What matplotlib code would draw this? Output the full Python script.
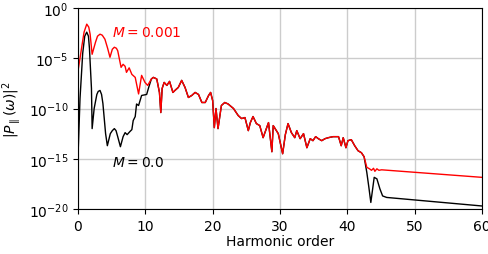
import numpy as np
import matplotlib
matplotlib.use("Agg")
import matplotlib.pyplot as plt

# log10 |P|^2, harmonic order on x

# M = 0.001, low harmonics (before the two curves merge)
red_head_x = [0.0, 0.3, 0.55, 0.9, 1.3, 1.6, 1.8, 2.1, 2.35, 2.6, 2.9, 3.27, 3.6, 4.0,
              4.4, 4.75, 5.1, 5.4, 5.7, 5.9, 6.4, 6.7, 7.0, 7.2, 7.6, 8.0, 8.5, 9.0,
              9.45, 9.95, 10.35]
red_head_log = [-6.25, -5.0, -3.9, -2.4, -1.6, -1.9, -2.6, -4.6, -4.0, -3.4, -2.8, -2.6, -2.7, -3.1,
                -4.0, -4.9, -4.1, -3.9, -4.0, -4.25, -5.9, -5.6, -5.8, -6.4, -5.95, -6.6, -6.9, -8.55,
                -6.7, -7.4, -7.7]

# M = 0.0, low harmonics
black_head_x = [0.0, 0.3, 0.7, 1.0, 1.3, 1.55, 1.7, 2.0, 2.1, 2.4, 2.8, 3.0, 3.27, 3.5,
                3.7, 4.1, 4.36, 4.8, 5.1, 5.4, 5.65, 5.9, 6.3, 6.7, 7.0, 7.3, 7.7, 8.0,
                8.2, 8.5, 8.7, 9.0, 9.45, 10.2, 10.5]
black_head_log = [-14.8, -9.0, -4.5, -2.8, -2.4, -2.8, -4.0, -8.0, -12.0, -10.0, -8.6, -8.3, -8.2, -8.6,
                  -9.5, -12.5, -13.7, -12.5, -12.2, -12.0, -12.2, -12.8, -13.8, -12.8, -12.4, -12.6, -12.3, -12.1,
                  -11.2, -10.8, -9.55, -9.7, -8.7, -8.6, -7.9]

# common part of both spectra
mid_x = [10.9, 11.2, 11.7, 12.1, 12.3, 12.5, 12.8, 13.2, 13.6, 14.1, 14.4, 14.9, 15.4,
         15.9, 16.4, 16.9, 17.4, 17.9, 18.4, 18.9, 19.4, 19.7, 20.0, 20.25, 20.5, 20.8,
         21.3, 21.8, 22.3, 23.1, 23.8, 24.3, 24.8, 25.3, 25.6, 26.0, 26.5, 27.0, 27.5,
         28.3, 28.8, 29.0, 29.75, 30.4, 30.8, 31.2, 31.7, 32.2, 32.5, 33.0, 33.5, 34.0,
         34.5, 34.9, 35.3, 35.7, 36.2, 36.7, 37.2, 37.9, 38.7, 39.1, 39.4, 39.8, 40.1,
         40.6, 41.1, 41.6, 42.1, 42.5]
mid_log = [-7.06, -6.9, -7.06, -8.4, -10.4, -8.0, -7.4, -7.7, -7.3, -8.4, -8.2, -7.9, -7.2,
           -7.9, -8.9, -8.7, -8.4, -8.6, -9.4, -9.4, -8.7, -8.4, -9.2, -11.9, -10.0, -12.0,
           -9.7, -9.4, -9.55, -10.0, -10.7, -11.0, -10.9, -12.2, -11.4, -10.8, -11.5, -11.7, -12.9,
           -11.4, -14.3, -11.7, -12.5, -14.5, -12.6, -11.5, -12.4, -12.9, -12.2, -13.0, -12.5, -13.9,
           -13.0, -13.2, -12.8, -13.0, -13.2, -13.0, -12.9, -12.8, -12.8, -13.7, -12.9, -13.9, -13.2,
           -13.1, -13.7, -14.2, -14.4, -14.8]

# tails above the cutoff
red_tail_x = [42.9, 43.3, 43.6, 43.9, 44.1, 44.4, 44.7, 45.1, 60.0]
red_tail_log = [-15.85, -16.0, -16.15, -15.95, -16.25, -16.0, -16.15, -16.1, -16.85]

black_tail_x = [42.9, 43.2, 43.5, 44.0, 44.4, 44.85, 45.25, 45.85, 60.0]
black_tail_log = [-16.35, -17.8, -19.35, -16.85, -17.0, -18.0, -18.7, -18.85, -19.7]

red_x = np.concatenate([red_head_x, mid_x, red_tail_x])
red_y = 10.0 ** np.concatenate([red_head_log, mid_log, red_tail_log])
black_x = np.concatenate([black_head_x, mid_x, black_tail_x])
black_y = 10.0 ** np.concatenate([black_head_log, mid_log, black_tail_log])

fig = plt.figure(figsize=(4.89, 2.55), dpi=100)
ax = fig.add_axes([0.1595, 0.1765, 0.826, 0.788])

ax.plot(black_x, black_y, color='black', linewidth=1.0)
ax.plot(red_x, red_y, color='red', linewidth=1.0)

ax.set_yscale('log')
ax.set_xlim(0, 60)
ax.set_ylim(1e-20, 1e0)
ax.set_yticks([1e-20, 1e-15, 1e-10, 1e-5, 1e0])
ax.yaxis.set_minor_locator(matplotlib.ticker.NullLocator())
ax.set_xticks([0, 10, 20, 30, 40, 50, 60])
ax.grid(True, color='#cccccc', linewidth=1.0)
ax.set_axisbelow(True)

ax.text(5.0, 10 ** -2.4, '$M = 0.001$', color='red', fontsize=10, va='center')
ax.text(5.0, 10 ** -15.3, '$M = 0.0$', color='black', fontsize=10, va='center')

ax.set_xlabel('Harmonic order', fontsize=10, labelpad=1)
ax.set_ylabel(r'$|P_\parallel(\omega)|^2$', fontsize=10)

fig.savefig('out.png', dpi=100)
